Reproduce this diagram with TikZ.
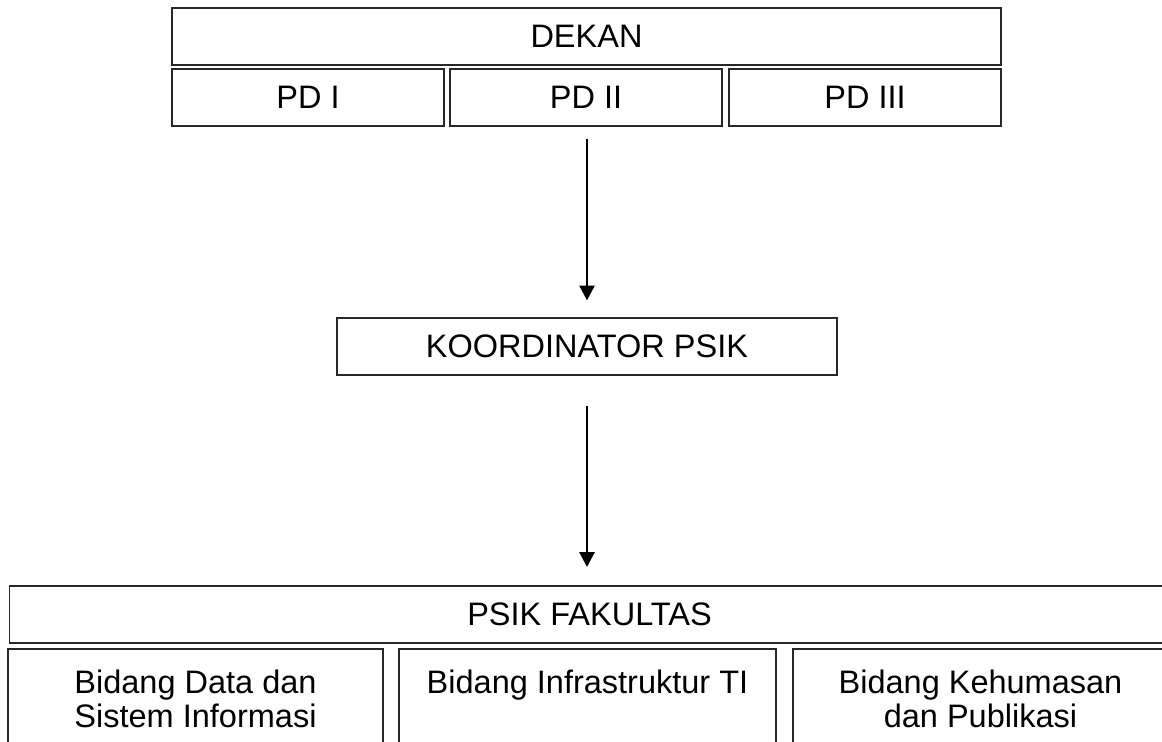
\documentclass[tikz,border=0pt]{standalone}
\usepackage{fontspec}
\setmainfont{Liberation Sans}
\usetikzlibrary{arrows.meta}
\definecolor{boxline}{RGB}{40, 40, 40}

\begin{document}
\begin{tikzpicture}[x=0.02cm, y=-0.02cm,
		unit/.style={draw=boxline, line width=0.7pt, rectangle, inner sep=0pt, outer sep=0pt,
			minimum height=1.14cm, align=center, font=\fontsize{18.5}{19.5}\selectfont},
		down/.style={line width=1.6pt, -{Triangle[width=8.5pt, length=8.5pt]}}]
			\clip (0, 0) rectangle (1162, 741);
			\node [unit, minimum width=16.58cm] (dekan) at (586.5, 36.5) {DEKAN};
			\node [unit, minimum width=5.44cm] (pd1) at (308, 97.5) {PD I};
			\node [unit, minimum width=5.44cm] (pd2) at (586, 97.5) {PD II};
			\node [unit, minimum width=5.44cm] (pd3) at (865, 97.5) {PD III};
			\node [unit, minimum width=10cm] (koor) at (587, 346.5) {KOORDINATOR PSIK};
			\node [unit, minimum width=23.22cm] (fak) at (589.5, 614.5) {PSIK FAKULTAS};
			\node [unit, minimum width=7.5cm, minimum height=2cm] (bid1) at (195.5, 699) {Bidang Data dan\\Sistem Informasi};
			\node [unit, minimum width=7.54cm, minimum height=2cm] (bid2) at (587.5, 699) {Bidang Infrastruktur TI\\ \mbox{}};
			\node [unit, minimum width=7.5cm, minimum height=2cm] (bid3) at (980.5, 699) {Bidang Kehumasan\\dan Publikasi};
			\draw [down, shorten <=7.4pt, shorten >=10pt] (koor.north |- pd2.south) -- (koor.north);
			\draw [down, shorten <=17.6pt, shorten >=10.8pt] (koor.south) -- (koor.south |- fak.north);
		\end{tikzpicture}
\end{document}
